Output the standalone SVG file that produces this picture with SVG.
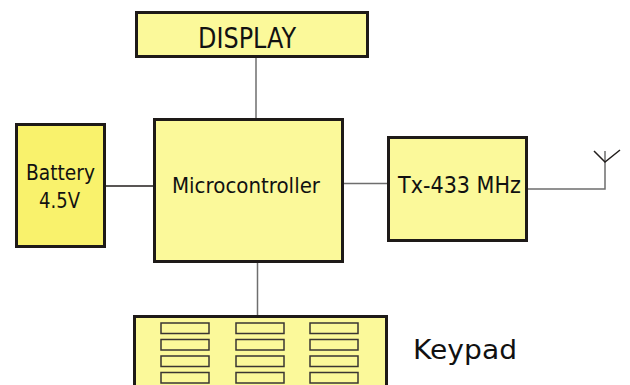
<svg xmlns="http://www.w3.org/2000/svg" width="630" height="385" viewBox="0 0 630 385">
  <style>
    .box { fill: #fbf99a; stroke: #1e1a18; stroke-width: 3; }
    .bat { fill: #f9f26c; }
    .key { fill: #fbf99a; stroke: #3a3632; stroke-width: 1.5; }
    .wire { stroke: #6e6e6e; stroke-width: 1.5; fill: none; }
    .wire-dark { stroke: #221e1c; stroke-width: 1.5; fill: none; }
    text { font-family: "DejaVu Sans", "Liberation Sans", sans-serif; fill: #111; }
  </style>
  <rect width="630" height="385" fill="#ffffff"/>

  <!-- connectors -->
  <g id="connectors">
    <line class="wire" x1="256" y1="58" x2="256" y2="118"/>
    <line class="wire-dark" x1="106" y1="186" x2="153" y2="186"/>
    <line class="wire" x1="344" y1="183.5" x2="387" y2="183.5"/>
    <line class="wire" x1="257.5" y1="263" x2="257.5" y2="315"/>
    <!-- antenna feed -->
    <polyline class="wire" points="528,189 605,189 605,151"/>
    <polyline class="wire-dark" points="594,151 605,162 620,150"/>
  </g>

  <g id="display">
    <rect class="box" x="136.5" y="12.5" width="231" height="44"/>
    <text x="198" y="48" font-size="29" textLength="98" lengthAdjust="spacingAndGlyphs">DISPLAY</text>
  </g>

  <g id="battery">
    <rect class="box bat" x="16.5" y="124.5" width="88" height="122"/>
    <text x="26" y="180" font-size="21.5" textLength="69" lengthAdjust="spacingAndGlyphs">Battery</text>
    <text x="39" y="208" font-size="21.5" textLength="41" lengthAdjust="spacingAndGlyphs">4.5V</text>
  </g>

  <g id="microcontroller">
    <rect class="box" x="154.5" y="119.5" width="188" height="142"/>
    <text x="172" y="193" font-size="21.5" textLength="148" lengthAdjust="spacingAndGlyphs">Microcontroller</text>
  </g>

  <g id="tx">
    <rect class="box" x="388.5" y="137.5" width="138" height="103"/>
    <text x="398" y="193" font-size="23" textLength="123" lengthAdjust="spacingAndGlyphs">Tx-433 MHz</text>
  </g>

  <g id="keypad">
    <rect class="box" x="134.5" y="316.5" width="252" height="80"/>
    <rect class="key" x="161" y="323" width="48" height="10.5"/>
    <rect class="key" x="236" y="323" width="48" height="10.5"/>
    <rect class="key" x="310" y="323" width="48" height="10.5"/>
    <rect class="key" x="161" y="339.5" width="48" height="10.5"/>
    <rect class="key" x="236" y="339.5" width="48" height="10.5"/>
    <rect class="key" x="310" y="339.5" width="48" height="10.5"/>
    <rect class="key" x="161" y="356" width="48" height="10.5"/>
    <rect class="key" x="236" y="356" width="48" height="10.5"/>
    <rect class="key" x="310" y="356" width="48" height="10.5"/>
    <rect class="key" x="161" y="372.5" width="48" height="10.5"/>
    <rect class="key" x="236" y="372.5" width="48" height="10.5"/>
    <rect class="key" x="310" y="372.5" width="48" height="10.5"/>
    <text x="413" y="359" font-size="26" textLength="104" lengthAdjust="spacingAndGlyphs">Keypad</text>
  </g>
</svg>
